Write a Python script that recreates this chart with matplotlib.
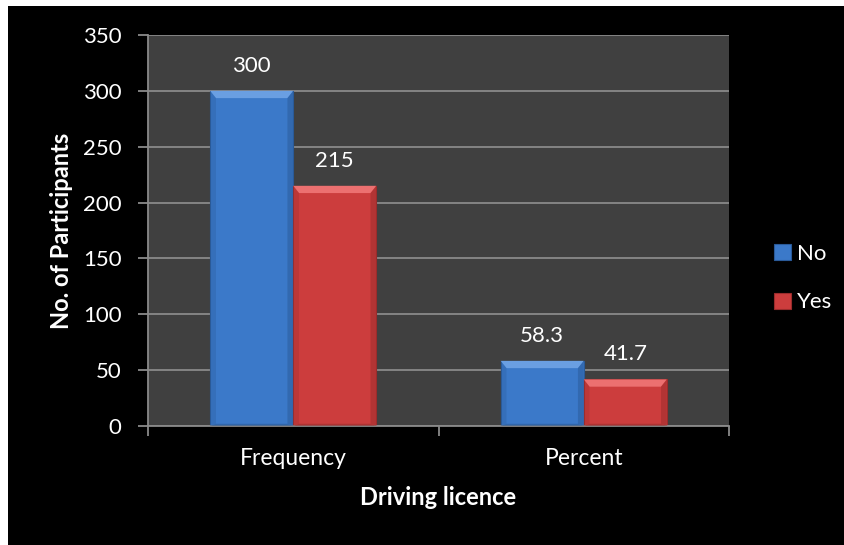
import matplotlib
matplotlib.use("Agg")
import matplotlib.pyplot as plt
from matplotlib.patches import Rectangle, Polygon
import numpy as np

categories = ["Frequency", "Percent"]
series_names = ["No", "Yes"]
no_values = [300, 58.3]
yes_values = [215, 41.7]
value_labels_no = ["300", "58.3"]
value_labels_yes = ["215", "41.7"]
yticks = [0, 50, 100, 150, 200, 250, 300, 350]

plt.rcParams['font.family'] = ['Lato', 'DejaVu Sans']

W, H = 845, 545
fig = plt.figure(figsize=(W / 100, H / 100), dpi=100, facecolor="black")
# white margin on top/left
fig.patches.append(Rectangle((0, 1 - 6 / H), 1, 6 / H, transform=fig.transFigure,
                             facecolor="white", edgecolor="none", zorder=-10))
fig.patches.append(Rectangle((0, 0), 8 / W, 1, transform=fig.transFigure,
                             facecolor="white", edgecolor="none", zorder=-10))

ax = fig.add_axes([148 / W, 1 - 426 / H, (729 - 148) / W, (426 - 35) / H])
ax.set_zorder(5)
ax.set_facecolor("#404040")

blue = "#3b79c9"
red = "#cc3d3d"
blue_light = "#6a9fe2"
red_light = "#ec7070"
blue_dark = "#2a5a98"
red_dark = "#9a2c2c"

x = np.arange(len(categories))
w = 0.286

def bevel(ax, bars, light, dark):
    for b in bars:
        x0, y0 = b.get_x(), b.get_y()
        bw, bh = b.get_width(), b.get_height()
        dx = bw * 0.07
        dy = 6.5
        ax.add_patch(Polygon([[x0, y0 + bh], [x0 + bw, y0 + bh],
                              [x0 + bw - dx, y0 + bh - dy], [x0 + dx, y0 + bh - dy]],
                             closed=True, facecolor=light, edgecolor="none", zorder=3))
        ax.add_patch(Polygon([[x0 + bw, y0 + bh], [x0 + bw, y0],
                              [x0 + bw - dx, y0 + 2], [x0 + bw - dx, y0 + bh - dy]],
                             closed=True, facecolor=dark, edgecolor="none", alpha=0.5, zorder=3))
        ax.add_patch(Polygon([[x0, y0 + bh], [x0, y0],
                              [x0 + dx, y0 + 2], [x0 + dx, y0 + bh - dy]],
                             closed=True, facecolor=dark, edgecolor="none", alpha=0.3, zorder=3))
        ax.add_patch(Polygon([[x0, y0], [x0 + bw, y0],
                              [x0 + bw - dx, y0 + 2], [x0 + dx, y0 + 2]],
                             closed=True, facecolor=dark, edgecolor="none", alpha=0.6, zorder=3))

b1 = ax.bar(x - w / 2, no_values, w, color=blue, edgecolor=blue_dark, linewidth=0.8,
            label=series_names[0], zorder=2)
b2 = ax.bar(x + w / 2, yes_values, w, color=red, edgecolor=red_dark, linewidth=0.8,
            label=series_names[1], zorder=2)
bevel(ax, b1, blue_light, blue_dark)
bevel(ax, b2, red_light, red_dark)

for bars, labels in ((b1, value_labels_no), (b2, value_labels_yes)):
    for b, lab in zip(bars, labels):
        ax.annotate(lab, (b.get_x() + b.get_width() / 2, b.get_height()),
                    xytext=(0, 11), textcoords="offset points",
                    ha="center", va="bottom", color="white", fontsize=16)

ax.set_xlim(-0.5, len(categories) - 0.5)
ax.set_ylim(0, 350)
ax.set_yticks(yticks)
ax.set_yticklabels([str(t) for t in yticks])
ax.yaxis.grid(True, color="#8a8a8a", linewidth=1.3)
ax.set_axisbelow(True)

ax.set_xticks([-0.5, 0.5, 1.5], minor=False)
ax.set_xticklabels(["", "", ""])
ax.set_xticks(x, minor=True)
ax.set_xticklabels(categories, minor=True)
ax.tick_params(axis="x", which="major", length=7, width=1.3, color="#8a8a8a", direction="out")
ax.tick_params(axis="x", which="minor", length=0, pad=16, labelsize=16.5, labelcolor="white")
ax.tick_params(axis="y", length=7, width=1.3, color="#8a8a8a", labelsize=16,
               labelcolor="white", pad=12)

for s in ("top", "right"):
    ax.spines[s].set_visible(False)
for s in ("left", "bottom"):
    ax.spines[s].set_color("#8a8a8a")
    ax.spines[s].set_linewidth(1.3)

ax.set_ylabel("No. of Participants", color="white", fontsize=17, fontweight="bold", labelpad=7)
ax.set_xlabel("Driving licence", color="white", fontsize=17, fontweight="bold", labelpad=12)

leg = fig.legend(handles=[b1, b2], labels=series_names, loc="center left",
                 bbox_to_anchor=(774 / W, 1 - 278 / H), frameon=False,
                 borderaxespad=0, borderpad=0,
                 labelcolor="white", fontsize=16, handlelength=0.75, handleheight=0.75,
                 labelspacing=1.3, handletextpad=0.3)

fig.savefig("out.png", dpi=100, facecolor="black")
